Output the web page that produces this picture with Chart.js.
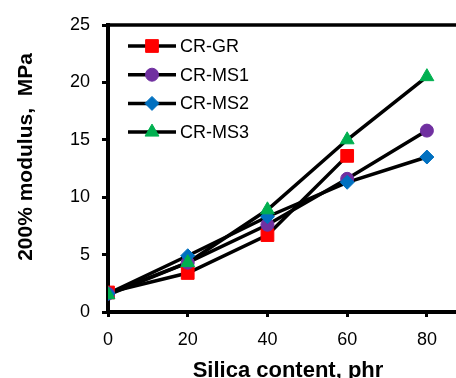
<!DOCTYPE html>
<html>
<head>
<meta charset="utf-8">
<script src="https://cdn.jsdelivr.net/npm/chart.js@4/dist/chart.umd.min.js"></script>
<style>
  html, body { margin: 0; padding: 0; background: #fff; }
  #wrap { width: 456px; height: 378px; }
</style>
</head>
<body>
<div id="wrap"><canvas id="moduloChart" width="456" height="378"></canvas></div>
<script>
// teor de sílica (phr) e módulo a 200% (MPa) de cada composto
const teorSilica = [0, 20, 40, 60, 80];
const crGR  = [1.7, 3.4, 6.7, 13.6];
const crMS1 = [1.6, 4.3, 7.6, 11.6, 15.8];
const crMS2 = [1.6, 4.9, 8.3, 11.3, 13.5];
const crMS3 = [1.5, 4.3, 8.9, 15.0, 20.5];
const nomesSeries = ['CR-GR', 'CR-MS1', 'CR-MS2', 'CR-MS3'];
const ticksX = [0, 20, 40, 60, 80];
const ticksY = [0, 5, 10, 15, 20, 25];

const valoresSeries = [crGR, crMS1, crMS2, crMS3];
const estilos = [
    { cor: '#ff0000', marcador: 'rect', raio: 9 },
    { cor: '#7030a0', marcador: 'circle', raio: 6.5 },
    { cor: '#0070c0', marcador: 'rectRot', raio: 7 },
    { cor: '#00b050', marcador: 'triangle', raio: 8 }
];
const FONTE = '"Liberation Sans", Arial, sans-serif';

function pontos(valores) {
    return valores.map((v, i) => ({ x: teorSilica[i], y: v }));
}

// linhas pretas primeiro, marcadores por cima
const linhas = valoresSeries.map(valores => ({
    data: pontos(valores),
    borderColor: '#000',
    borderWidth: 3.5,
    pointRadius: 0,
    showLine: true,
    order: 10
}));
const marcadores = valoresSeries.map((valores, i) => ({
    label: nomesSeries[i],
    data: pontos(valores),
    showLine: false,
    pointStyle: estilos[i].marcador,
    pointRadius: estilos[i].raio,
    pointBackgroundColor: estilos[i].cor,
    pointBorderColor: estilos[i].cor,
    pointBorderWidth: 1,
    order: 3 - i
}));

const legendaInterna = {
    id: 'legendaInterna',
    afterDatasetsDraw(chart) {
        const ctx = chart.ctx;
        const area = chart.chartArea;
        const x0 = area.left + 20, x1 = area.left + 68, xm = (x0 + x1) / 2;
        ctx.save();
        estilos.forEach((est, i) => {
            const y = area.top + 21 + i * 28.7;
            ctx.strokeStyle = '#000';
            ctx.lineWidth = 3.5;
            ctx.beginPath();
            ctx.moveTo(x0, y);
            ctx.lineTo(x1, y);
            ctx.stroke();
            ctx.fillStyle = est.cor;
            ctx.strokeStyle = est.cor;
            ctx.lineWidth = 1;
            Chart.helpers.drawPoint(ctx, { pointStyle: est.marcador, radius: est.raio, borderWidth: 1, rotation: 0 }, xm, y);
            ctx.fillStyle = '#000';
            ctx.font = '18px ' + FONTE;
            ctx.textBaseline = 'middle';
            ctx.textAlign = 'left';
            ctx.fillText(nomesSeries[i], x1 + 4, y + 1);
        });
        ctx.restore();
    }
};

const moldura = {
    id: 'moldura',
    afterDraw(chart) {
        const ctx = chart.ctx;
        const area = chart.chartArea;
        ctx.save();
        // linha superior do quadro
        ctx.strokeStyle = '#000';
        ctx.lineWidth = 3.5;
        ctx.beginPath();
        ctx.moveTo(area.left - 2, area.top);
        ctx.lineTo(area.right, area.top);
        ctx.stroke();
        // títulos dos eixos
        ctx.fillStyle = '#000';
        ctx.font = 'bold 22px ' + FONTE;
        ctx.textAlign = 'center';
        ctx.textBaseline = 'alphabetic';
        ctx.fillText('Silica content, phr', 288, 377);
        ctx.translate(32, 157);
        ctx.rotate(-Math.PI / 2);
        ctx.font = 'bold 21px ' + FONTE;
        ctx.fillText('200% modulus,  MPa', 0, 0);
        ctx.restore();
    }
};

const ctx = document.getElementById('moduloChart').getContext('2d');
new Chart(ctx, {
    type: 'line',
    data: { datasets: linhas.concat(marcadores) },
    options: {
        responsive: false,
        animation: false,
        devicePixelRatio: 1,
        layout: { autoPadding: false, padding: { top: 25, right: 0, left: 0, bottom: 0 } },
        plugins: {
            legend: { display: false },
            tooltip: { enabled: false }
        },
        scales: {
            x: {
                type: 'linear',
                min: 0,
                max: 87.3,
                afterFit: s => { s.height = 66; s.paddingLeft = 0; s.paddingRight = 0; },
                afterBuildTicks: s => { s.ticks = ticksX.map(v => ({ value: v })); },
                border: { color: '#000', width: 4 },
                grid: { drawOnChartArea: false, color: '#000', tickLength: 5, tickWidth: 3 },
                ticks: { color: '#000', font: { family: FONTE, size: 18 }, padding: 12, maxRotation: 0 }
            },
            y: {
                min: 0,
                max: 25,
                afterFit: s => { s.width = 108; s.paddingTop = 0; s.paddingBottom = 0; },
                afterBuildTicks: s => { s.ticks = ticksY.map(v => ({ value: v })); },
                border: { color: '#000', width: 4 },
                grid: { drawOnChartArea: false, color: '#000', tickLength: 6, tickWidth: 3 },
                ticks: { color: '#000', font: { family: FONTE, size: 18 }, padding: 12 }
            }
        }
    },
    plugins: [legendaInterna, moldura]
});
</script>
</body>
</html>
